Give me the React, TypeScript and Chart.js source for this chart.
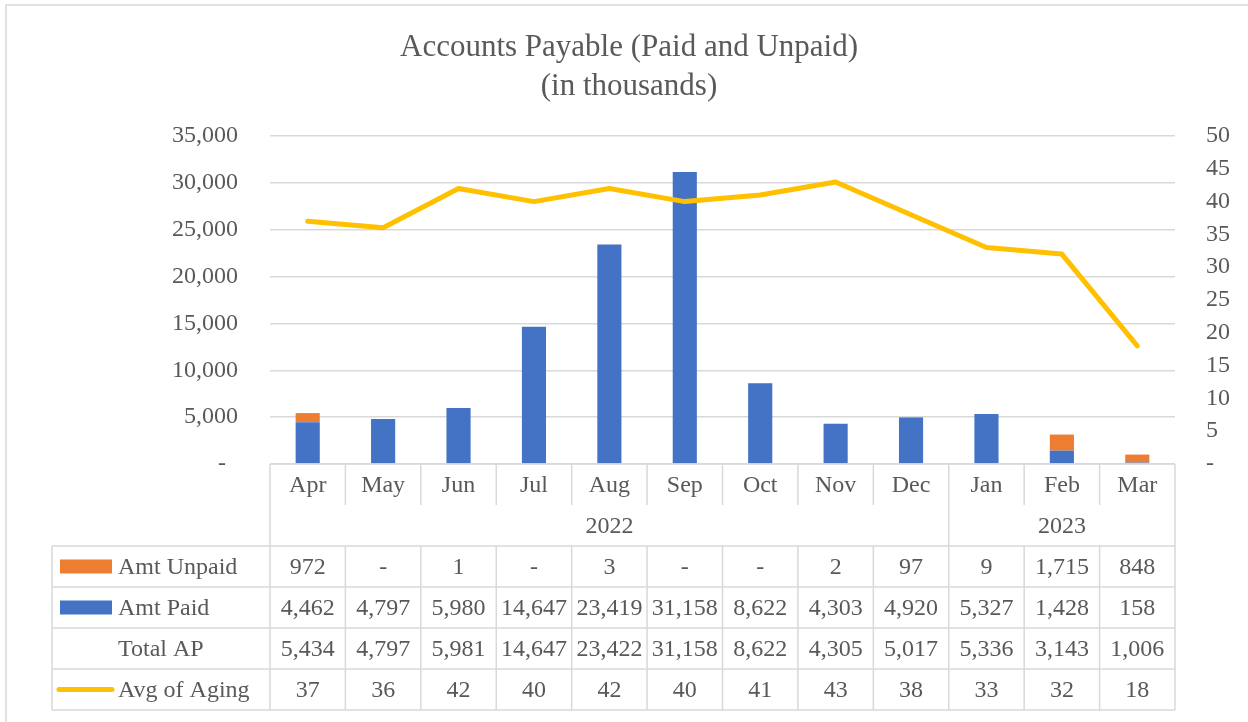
import React, { useEffect, useRef } from 'react';
import { Chart, registerables } from 'chart.js';

Chart.register(...registerables);

// ---- data ----
const titleLines = ['Accounts Payable (Paid and Unpaid)', '(in thousands)'];
const months = ['Apr', 'May', 'Jun', 'Jul', 'Aug', 'Sep', 'Oct', 'Nov', 'Dec', 'Jan', 'Feb', 'Mar'];
const yearLabels = ['2022', '2023'];
const yearSpans = [9, 3];
const amtUnpaid = [972, 0, 1, 0, 3, 0, 0, 2, 97, 9, 1715, 848];
const amtPaid = [4462, 4797, 5980, 14647, 23419, 31158, 8622, 4303, 4920, 5327, 1428, 158];
const totalAP = [5434, 4797, 5981, 14647, 23422, 31158, 8622, 4305, 5017, 5336, 3143, 1006];
const avgAging = [37, 36, 42, 40, 42, 40, 41, 43, 38, 33, 32, 18];
const seriesNames = ['Amt Unpaid', 'Amt Paid', 'Total AP', 'Avg of Aging'];

// ---- style ----
const FONT = "'Liberation Serif', 'Times New Roman', serif";
const TEXT = '#595959';
const GRID = '#D9D9D9';
const BLUE = '#4472C4';
const ORANGE = '#ED7D31';
const YELLOW = '#FFC000';

const fmt = (v: number) => (v === 0 ? '-' : v.toLocaleString('en-US'));

const decorPlugin = {
  id: 'decor',
  beforeDraw(chart: any) {
    const ctx = chart.ctx;
    ctx.save();
    ctx.fillStyle = '#ffffff';
    ctx.fillRect(0, 0, chart.width, chart.height);
    ctx.strokeStyle = GRID;
    ctx.lineWidth = 1.5;
    ctx.beginPath();
    ctx.moveTo(6, chart.height);
    ctx.lineTo(6, 5);
    ctx.lineTo(chart.width, 5);
    ctx.stroke();
    ctx.fillStyle = TEXT;
    ctx.font = `31px ${FONT}`;
    ctx.textAlign = 'center';
    ctx.textBaseline = 'middle';
    ctx.fillText(titleLines[0], 629, 48);
    ctx.fillText(titleLines[1], 629, 87);
    ctx.restore();
  },
  afterDraw(chart: any) {
    const ctx = chart.ctx;
    const xs = chart.scales.x;
    const area = chart.chartArea;
    const n = months.length;
    const colW = (area.right - area.left) / n;
    const edge = (i: number) => area.left + i * colW;
    const center = (i: number) => xs.getPixelForValue(i);
    const top = area.bottom;
    const rowH = 41;
    const monthBottom = top + rowH;
    const yearBottom = top + 2 * rowH;
    const rowsTop = yearBottom;
    const tableBottom = rowsTop + 4 * rowH;
    const labelLeft = 52;

    ctx.save();
    ctx.strokeStyle = GRID;
    ctx.lineWidth = 1.5;
    ctx.beginPath();
    // horizontal lines
    ctx.moveTo(area.left, top);
    ctx.lineTo(area.right, top);
    for (let r = 0; r <= 4; r++) {
      const y = rowsTop + r * rowH;
      ctx.moveTo(labelLeft, y);
      ctx.lineTo(area.right, y);
    }
    // vertical lines
    ctx.moveTo(labelLeft, rowsTop);
    ctx.lineTo(labelLeft, tableBottom);
    ctx.moveTo(area.left, top);
    ctx.lineTo(area.left, tableBottom);
    ctx.moveTo(area.right, top);
    ctx.lineTo(area.right, tableBottom);
    let yearEdges: number[] = [];
    let acc = 0;
    yearSpans.forEach((s) => {
      acc += s;
      yearEdges.push(acc);
    });
    for (let i = 1; i < n; i++) {
      const x = edge(i);
      if (yearEdges.includes(i)) {
        ctx.moveTo(x, top);
        ctx.lineTo(x, tableBottom);
      } else {
        ctx.moveTo(x, top);
        ctx.lineTo(x, monthBottom);
        ctx.moveTo(x, rowsTop);
        ctx.lineTo(x, tableBottom);
      }
    }
    ctx.stroke();

    // texts
    ctx.fillStyle = TEXT;
    ctx.font = `24px ${FONT}`;
    ctx.textBaseline = 'middle';
    ctx.textAlign = 'center';
    months.forEach((m, i) => ctx.fillText(m, center(i), top + rowH / 2 + 1));
    let start = 0;
    yearLabels.forEach((y, k) => {
      const a = edge(start);
      const b = edge(start + yearSpans[k]);
      ctx.fillText(y, (a + b) / 2, monthBottom + rowH / 2 + 1);
      start += yearSpans[k];
    });
    const rows = [amtUnpaid, amtPaid, totalAP, avgAging];
    rows.forEach((vals, r) => {
      const cy = rowsTop + r * rowH + rowH / 2 + 1;
      vals.forEach((v, i) => ctx.fillText(fmt(v), center(i), cy));
    });
    // row labels and legend keys
    ctx.textAlign = 'left';
    seriesNames.forEach((name, r) => {
      const cy = rowsTop + r * rowH + rowH / 2 + 1;
      ctx.fillStyle = TEXT;
      ctx.fillText(name, 118, cy);
    });
    const cy0 = rowsTop + rowH / 2;
    ctx.fillStyle = ORANGE;
    ctx.fillRect(60, cy0 - 7, 52, 14);
    ctx.fillStyle = BLUE;
    ctx.fillRect(60, cy0 + rowH - 7, 52, 14);
    ctx.strokeStyle = YELLOW;
    ctx.lineWidth = 5;
    ctx.lineCap = 'round';
    ctx.beginPath();
    ctx.moveTo(59, cy0 + 3 * rowH);
    ctx.lineTo(112, cy0 + 3 * rowH);
    ctx.stroke();
    ctx.restore();
  },
};

export default function App() {
  const ref = useRef<HTMLCanvasElement>(null);
  useEffect(() => {
    if (!ref.current) return;
    const chart = new Chart(ref.current, {
      type: 'bar',
      data: {
        labels: months,
        datasets: [
          {
            type: 'line',
            label: seriesNames[3],
            data: avgAging,
            yAxisID: 'y1',
            borderColor: YELLOW,
            backgroundColor: YELLOW,
            borderWidth: 5,
            pointRadius: 0,
            borderCapStyle: 'round',
            borderJoinStyle: 'round',
            tension: 0,
            order: 0,
          } as any,
          {
            label: seriesNames[1],
            data: amtPaid,
            backgroundColor: BLUE,
            yAxisID: 'y',
            stack: 'ap',
            order: 1,
            barPercentage: 0.32,
            categoryPercentage: 1,
          },
          {
            label: seriesNames[0],
            data: amtUnpaid,
            backgroundColor: ORANGE,
            yAxisID: 'y',
            stack: 'ap',
            order: 1,
            barPercentage: 0.32,
            categoryPercentage: 1,
          },
        ],
      },
      options: {
        responsive: false,
        animation: false,
        devicePixelRatio: 1,
        layout: { padding: { top: 136, bottom: 258, left: 0, right: 0 } },
        plugins: {
          legend: { display: false },
          tooltip: { enabled: false },
          title: { display: false },
        },
        scales: {
          x: {
            display: false,
            stacked: true,
            grid: { display: false },
          },
          y: {
            position: 'left',
            stacked: true,
            min: 0,
            max: 35000,
            ticks: {
              stepSize: 5000,
              padding: 32,
              color: TEXT,
              font: { family: FONT, size: 24 },
              callback: (v: any) => (Number(v) === 0 ? '-  ' : Number(v).toLocaleString('en-US')),
            },
            grid: { color: GRID, lineWidth: 1.5, drawTicks: false },
            border: { display: false },
            afterFit: (s: any) => {
              s.width = 270;
            },
          },
          y1: {
            position: 'right',
            min: 0,
            max: 50,
            ticks: {
              stepSize: 5,
              padding: 31,
              color: TEXT,
              font: { family: FONT, size: 24 },
              callback: (v: any) => (Number(v) === 0 ? '-' : String(v)),
            },
            grid: { display: false, drawTicks: false },
            border: { display: false },
            afterFit: (s: any) => {
              s.width = 73;
            },
          },
        },
      } as any,
      plugins: [decorPlugin],
    });
    return () => chart.destroy();
  }, []);
  return (
    <div style={{ position: 'absolute', left: 0, top: 0, width: 1248, height: 722, background: '#fff' }}>
      <canvas ref={ref} width={1248} height={722} style={{ display: 'block' }} />
    </div>
  );
}
